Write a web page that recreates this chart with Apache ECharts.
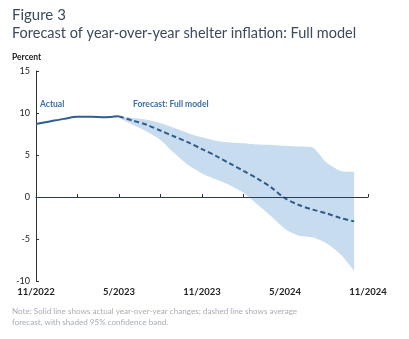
<!DOCTYPE html>
<html><head><meta charset="utf-8">
<script src="https://cdn.jsdelivr.net/npm/echarts@6/dist/echarts.min.js"></script>
<style>html,body{margin:0;padding:0;background:#fff}#c{width:409px;height:339px}</style>
</head><body><div id="c"></div>
<script>
const months = ["11/2022","12/2022","1/2023","2/2023","3/2023","4/2023","5/2023","6/2023","7/2023","8/2023","9/2023","10/2023","11/2023","12/2023","1/2024","2/2024","3/2024","4/2024","5/2024","6/2024","7/2024","8/2024","9/2024","10/2024","11/2024"];
const actual = [8.7, 9.0, 9.3, 9.55, 9.55, 9.5, 9.6];
const forecast = [9.6, 9.1, 8.6, 7.9, 7.2, 6.5, 5.7, 4.9, 4.0, 3.1, 2.2, 1.15, -0.15, -0.95, -1.5, -1.95, -2.5, -2.9];
const bandUpper = [9.6, 9.4, 9.2, 8.8, 8.2, 7.6, 7.1, 6.7, 6.5, 6.4, 6.25, 6.2, 6.1, 6.0, 5.9, 4.1, 3.1, 3.0];
const bandLower = [9.4, 8.6, 7.8, 6.8, 5.2, 3.8, 2.8, 2.1, 1.4, 0.5, -0.9, -2.3, -3.8, -4.6, -4.8, -5.5, -6.8, -8.8];
const yTicks = [-10, -5, 0, 5, 10, 15];
const fcStart = 6;

const pad = n => Array(n).fill(null);
const actualData = actual.concat(pad(months.length - actual.length));
const fcData = pad(fcStart).concat(forecast).concat(pad(months.length - fcStart - forecast.length));
const lowData = pad(fcStart).concat(bandLower).concat(pad(1));
const diffData = pad(fcStart).concat(bandUpper.map((u, i) => +(u - bandLower[i]).toFixed(2))).concat(pad(1));

const font = 'Lato, "Open Sans", sans-serif';
const chart = echarts.init(document.getElementById('c'), null, {renderer: 'canvas'});
chart.setOption({
  animation: false,
  textStyle: {fontFamily: font},
  graphic: [
    {type: 'text', left: 12, top: 8, style: {text: 'Figure 3', font: '15px ' + font, fill: '#3b4a5e'}},
    {type: 'text', left: 12, top: 26, style: {text: 'Forecast of year-over-year shelter inflation: Full model', font: '14.5px ' + font, fill: '#3b4a5e'}},
    {type: 'text', left: 12, top: 53, style: {text: 'Percent', font: 'bold 8.5px ' + font, fill: '#222'}},
    {type: 'text', left: 12, top: 306, style: {text: 'Note: Solid line shows actual year-over-year changes; dashed line shows average\nforecast, with shaded 95% confidence band.', font: '8.1px ' + font, fill: '#a8aeb6', lineHeight: 11}},
    {type: 'text', left: 40, top: 100, style: {text: 'Actual', font: 'bold 8.5px ' + font, fill: '#3a6ea5'}},
    {type: 'text', left: 133, top: 100, style: {text: 'Forecast: Full model', font: 'bold 8.5px ' + font, fill: '#3a6ea5'}}
  ],
  grid: {left: 36, right: 41, top: 71, bottom: 58},
  xAxis: {
    type: 'category', data: months, boundaryGap: false,
    axisLine: {lineStyle: {color: '#333', width: 1}},
    axisTick: {interval: 2, inside: true, length: 3, lineStyle: {color: '#333'}},
    axisLabel: {interval: 5, color: '#222', fontSize: 9.5, fontWeight: 'bold', margin: 6, fontFamily: font, showMaxLabel: true}
  },
  yAxis: {
    type: 'value', min: -10, max: 15, interval: 5,
    splitLine: {show: false},
    axisLine: {show: true, lineStyle: {color: '#333', width: 1}},
    axisTick: {show: true, inside: true, length: 3, lineStyle: {color: '#333'}},
    axisLabel: {color: '#222', fontSize: 9, margin: 6, fontFamily: font, formatter: v => yTicks.includes(v) ? String(v) : ''}
  },
  series: [
    {type: 'line', data: lowData, stack: 'band', stackStrategy: 'all', symbol: 'none', smooth: 0.2, lineStyle: {opacity: 0}, silent: true},
    {type: 'line', data: diffData, stack: 'band', stackStrategy: 'all', symbol: 'none', smooth: 0.2, lineStyle: {opacity: 0}, areaStyle: {color: '#c8dcf0', opacity: 1}, silent: true},
    {type: 'line', data: fcData, symbol: 'none', smooth: 0.3, lineStyle: {color: '#2f5a8a', width: 2, type: [5, 3]},
      markLine: {silent: true, symbol: 'none', label: {show: false}, lineStyle: {color: '#2a3d57', width: 1, type: 'solid'},
        data: [[{coord: [months[0], 0]}, {coord: [months[months.length - 2], 0]}]]}},
    {type: 'line', data: actualData, symbol: 'none', smooth: 0.3, lineStyle: {color: '#2f5f92', width: 2}}
  ]
});
</script></body></html>
